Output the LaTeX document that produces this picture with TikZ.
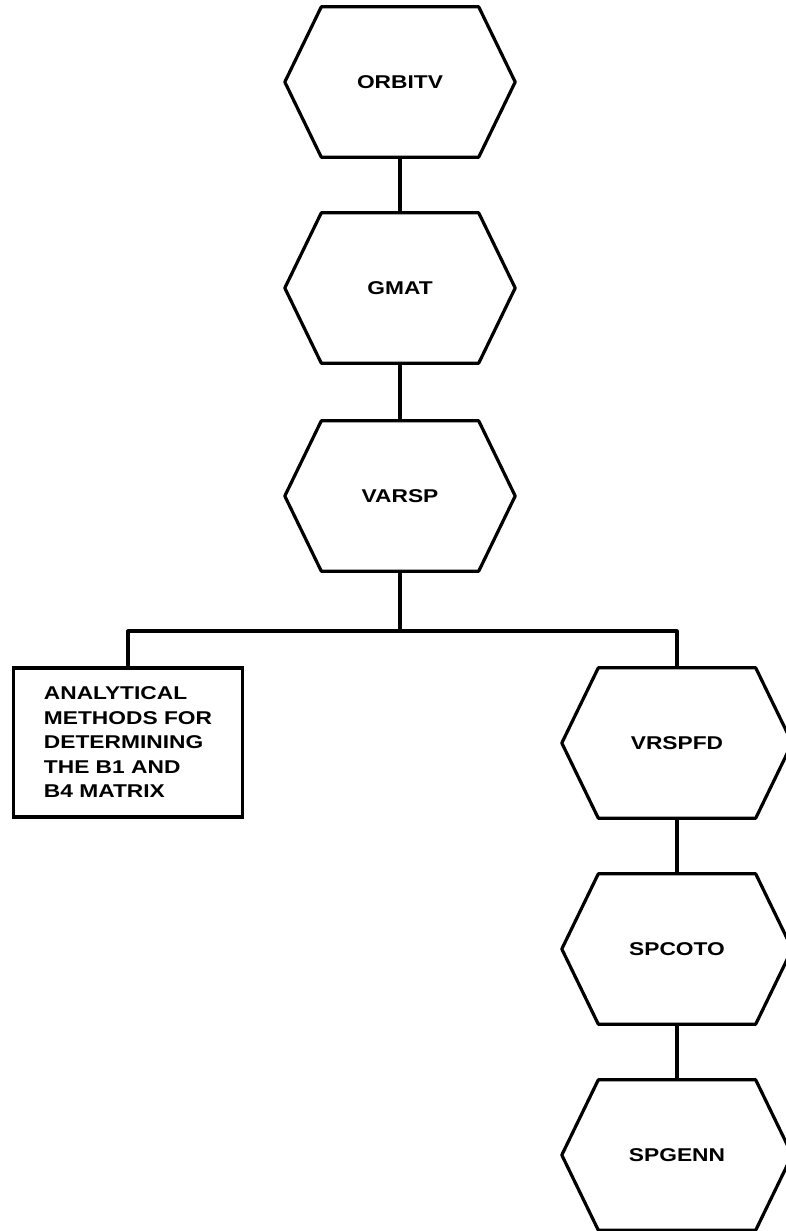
\documentclass[tikz,border=0pt]{standalone}
\usepackage{fontspec}
\setmainfont{Liberation Sans}[FakeStretch=1.23]
\usetikzlibrary{calc}
\tikzset{
  wire/.style={line width=3.2pt, line join=round},
  hexbox/.style={minimum width=230pt, minimum height=150pt, inner sep=0pt,
    font=\fontsize{18.5}{24.5}\selectfont\bfseries},
  textbox/.style={draw, line width=3.2pt, minimum width=229pt, minimum height=149pt,
    inner sep=0pt, align=left, font=\fontsize{18.5}{24.5}\selectfont\bfseries},
}
\begin{document}
\begin{tikzpicture}[x=1pt, y=-1pt]
\useasboundingbox (0,0) rectangle (786,1231);

% program modules
\node[hexbox] (orbitv) at (400,82)  {ORBITV};
\node[hexbox] (gmat)   at (400,288) {GMAT};
\node[hexbox] (varsp)  at (400,496) {VARSP};
\node[hexbox] (vrspfd) at (677,743) {VRSPFD};
\node[hexbox] (spcoto) at (677,949) {SPCOTO};
\node[hexbox] (spgenn) at (677,1155) {SPGENN};

% hexagon outlines around each module
\foreach \n in {orbitv,gmat,varsp,vrspfd,spcoto,spgenn}{
  \draw[wire] (\n.west) -- ($(\n.north west)+(36.5,0)$) -- ($(\n.north east)+(-36.5,0)$)
    -- (\n.east) -- ($(\n.south east)+(-36.5,0)$) -- ($(\n.south west)+(36.5,0)$) -- cycle;
}

% analytical method box
\node[textbox] (anal) at (128,742.5)
  {ANALYTICAL\\METHODS FOR\\DETERMINING\\THE B1 AND\\B4 MATRIX};

% connections
\coordinate (split) at (400,631);
\draw[wire] (orbitv.south) -- (gmat.north);
\draw[wire] (gmat.south) -- (varsp.north);
\draw[wire] (varsp.south) -- (split);
\draw[wire] (anal.north) |- (split) -| (vrspfd.north);
\draw[wire] (vrspfd.south) -- (spcoto.north);
\draw[wire] (spcoto.south) -- (spgenn.north);
\end{tikzpicture}
\end{document}
